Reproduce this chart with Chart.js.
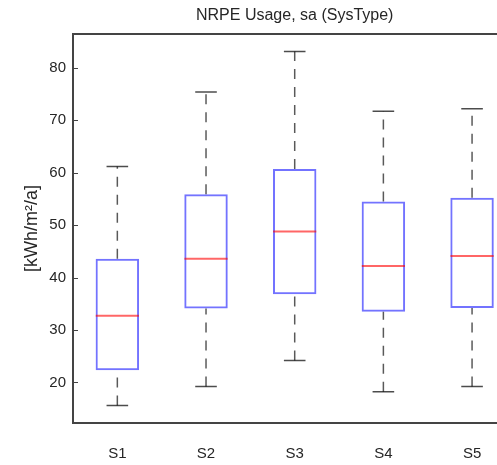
<!DOCTYPE html>
<html>
<head>
<meta charset="utf-8">
<script src="https://cdn.jsdelivr.net/npm/chart.js@4.4.0/dist/chart.umd.min.js"></script>
<style>
  html, body { margin: 0; padding: 0; overflow: hidden; background: #fff; }
  #boxChart { position: absolute; left: 0; top: 0; }
</style>
</head>
<body>
<canvas id="boxChart" width="540" height="465" style="width:540px;height:465px"></canvas>
<script>
var categories = ['S1', 'S2', 'S3', 'S4', 'S5'];
var lowerWhisker = [15.6, 19.2, 24.2, 18.2, 19.2];
var q1 = [22.3, 34.1, 36.8, 33.5, 34.2];
var median = [32.7, 43.6, 48.8, 42.2, 44.1];
var q3 = [43.6, 55.9, 60.7, 54.5, 55.2];
var upperWhisker = [61.2, 75.4, 83.1, 71.7, 72.2];
var yTicks = [20, 30, 40, 50, 60, 70, 80];

var fontFam = "'Liberation Sans', Arial, sans-serif";
var txtColor = '#262626';
var axisColor = '#444';

// datos derivados para la grafica
var boxData = categories.map(function (c, i) { return [q1[i], q3[i]]; });
var medianPts = categories.map(function (c, i) { return {x: c, y: median[i]}; });
var capPts = [];
var whiskerPts = [];
categories.forEach(function (c, i) {
    capPts.push({x: c, y: lowerWhisker[i]}, {x: c, y: upperWhisker[i]});
    whiskerPts.push({x: c, y: lowerWhisker[i]}, {x: c, y: q1[i]}, {x: c, y: null});
    whiskerPts.push({x: c, y: q3[i]}, {x: c, y: upperWhisker[i]}, {x: c, y: null});
});

// marco superior y marcas hacia dentro (estilo matlab)
var axesPlugin = {
    id: 'axesPlugin',
    afterDraw: function (chart) {
        var ctx = chart.ctx, area = chart.chartArea, ys = chart.scales.y;
        ctx.save();
        ctx.strokeStyle = axisColor;
        ctx.lineWidth = 2;
        ctx.beginPath();
        ctx.moveTo(area.left, area.top);
        ctx.lineTo(area.right, area.top);
        ctx.stroke();
        ctx.lineWidth = 1;
        ctx.beginPath();
        ys.ticks.forEach(function (t) {
            var py = Math.round(ys.getPixelForValue(t.value)) + 0.5;
            ctx.moveTo(area.left, py);
            ctx.lineTo(area.left + 5, py);
        });
        ctx.stroke();
        ctx.restore();
    }
};

var config = {
    type: 'bar',
    data: {
        labels: categories,
        datasets: [{
            type: 'line',
            label: 'Median',
            data: medianPts,
            showLine: false,
            pointStyle: 'line',
            pointRadius: 21.6,
            pointBorderColor: 'rgba(255,0,0,0.6)',
            pointBorderWidth: 2
        }, {
            type: 'line',
            label: 'Caps',
            data: capPts,
            showLine: false,
            pointStyle: 'line',
            pointRadius: 10.8,
            pointBorderColor: 'rgba(0,0,0,0.7)',
            pointBorderWidth: 1.5
        }, {
            type: 'line',
            label: 'Whiskers',
            data: whiskerPts,
            spanGaps: false,
            pointRadius: 0,
            borderColor: 'rgba(0,0,0,0.65)',
            borderWidth: 1.5,
            borderDash: [10, 8]
        }, {
            label: 'Box',
            data: boxData,
            backgroundColor: 'rgba(0,0,0,0)',
            borderColor: 'rgba(0,0,255,0.55)',
            borderWidth: 2,
            borderSkipped: false,
            barPercentage: 0.49,
            categoryPercentage: 1
        }]
    },
    options: {
        responsive: false,
        animation: false,
        events: [],
        layout: { padding: { left: 0, right: 5.4, top: 0, bottom: 0 } },
        plugins: {
            legend: { display: false },
            tooltip: { enabled: false },
            title: {
                display: true,
                fullSize: false,
                text: 'NRPE Usage, sa (SysType)',
                color: txtColor,
                font: { family: fontFam, size: 16, weight: 'normal' },
                padding: { top: 6.4, bottom: 8.4 }
            }
        },
        scales: {
            x: {
                afterFit: function (scale) {
                    scale.height = 42;
                    scale.paddingLeft = 0;
                    scale.paddingRight = 0;
                },
                grid: { drawOnChartArea: false, drawTicks: false },
                border: { display: true, color: axisColor, width: 2 },
                ticks: { color: txtColor, padding: 22, font: { family: fontFam, size: 15 } }
            },
            y: {
                min: 12.26,
                max: 86.45,
                afterFit: function (scale) {
                    scale.width = 73;
                    scale.paddingTop = 0;
                    scale.paddingBottom = 0;
                },
                afterBuildTicks: function (scale) {
                    scale.ticks = yTicks.map(function (v) { return {value: v}; });
                },
                grid: { drawOnChartArea: false, drawTicks: false },
                border: { display: true, color: axisColor, width: 2 },
                ticks: { color: txtColor, padding: 7, font: { family: fontFam, size: 15 } },
                title: {
                    display: true,
                    text: '[kWh/m\u00b2/a]',
                    color: txtColor,
                    font: { family: fontFam, size: 18 },
                    padding: { top: 21.7, bottom: 0 }
                }
            }
        }
    },
    plugins: [axesPlugin]
};

window.myBox = new Chart(document.getElementById('boxChart'), config);
</script>
</body>
</html>
